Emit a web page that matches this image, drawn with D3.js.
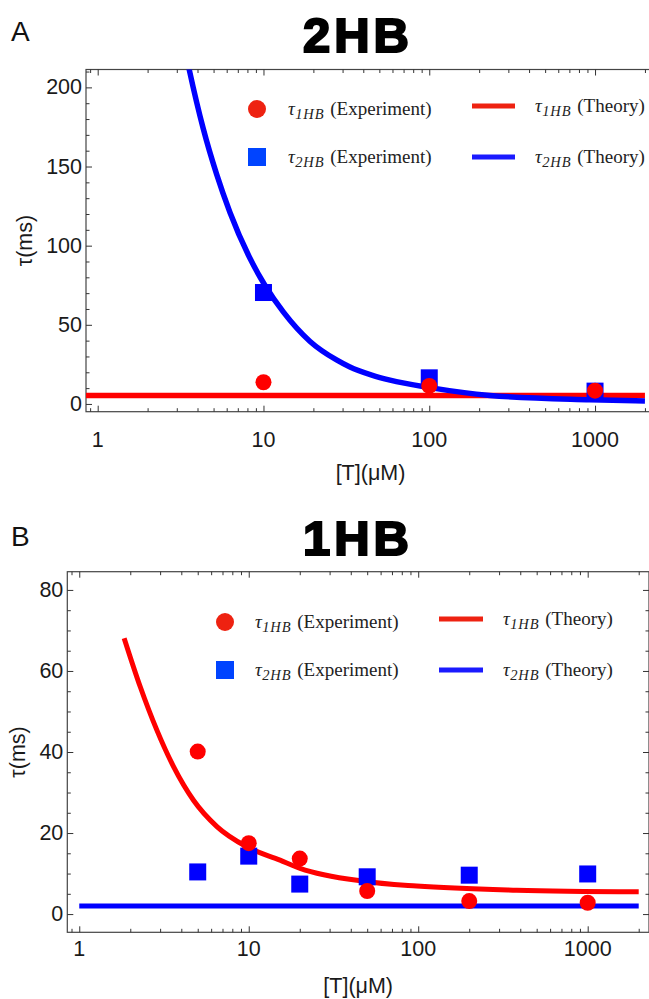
<!DOCTYPE html>
<html>
<head lang="en">
    <meta charset="UTF-8">
    <title></title>
    <style>
        body { margin: 0; background: #fff; }
        svg { display: block; }
        .tick-label { font-family: "Liberation Sans", Arial, sans-serif; font-size: 21.5px; fill: #1a1a1a; }
        .leg { font-family: "Liberation Serif", "Times New Roman", serif; font-size: 19px; fill: #222; }
    </style>
    <script src="https://cdn.jsdelivr.net/npm/d3@7"></script>
</head>
<body>
<div id="chart"></div>
<script>
    // ---- data ----
    var xTickLabels = [1, 10, 100, 1000];
    var aYTicks = [0, 50, 100, 150, 200];
    var bYTicks = [0, 20, 40, 60, 80];

    // panel A (2HB)
    var aExpX = [10, 100, 1000];
    var aTau1Exp = [13.7, 11.4, 8.4];
    var aTau2Exp = [70.4, 16.5, 8.1];
    var aTau1TheoryX = [0.85, 2000];
    var aTau1TheoryY = [5.3, 5.3];
    var aTau2TheoryX = [3.3, 3.57, 4.33, 5.22, 6.28, 8.29, 10.2, 13.2, 19.1, 27.6, 33, 45, 58, 101, 232, 931, 2000];
    var aTau2TheoryY = [228, 211, 174, 145, 121, 92, 75, 58, 39.5, 27.8, 23.5, 18.2, 15, 10.3, 5.4, 2.7, 1.9];

    // panel B (1HB)
    var bExpX = [5, 10, 20, 50, 200, 1000];
    var bTau1Exp = [40.1, 17.5, 13.7, 5.7, 3.2, 2.8];
    var bTau2Exp = [10.4, 14.3, 7.4, 9.2, 9.6, 9.9];
    var bTau1TheoryX = [1.84, 2.29, 2.87, 3.6, 4.72, 6.49, 9.75, 15.3, 20.1, 47.5, 98, 381, 2000];
    var bTau1TheoryY = [68.1, 56.1, 45.4, 36.4, 28.1, 21.6, 16.6, 13.3, 11.3, 8.1, 6.9, 5.9, 5.5];
    var bTau2TheoryX = [1, 2000];
    var bTau2TheoryY = [2.0, 2.0];

    var W = 649, H = 999;
    var red = '#ff0000', blue = '#0000ff';
    var legRed = '#ee2211', legBlue = '#0044ff', legLineBlue = '#1a1aff';

    var svg = d3.select('#chart').append('svg')
            .attr('width', W)
            .attr('height', H);
    svg.append('rect').attr('width', W).attr('height', H).attr('fill', '#fff');

    function zip(xs, ys) {
        return xs.map(function (d, i) { return {x: d, y: ys[i]}; });
    }

    function drawPanel(o) {
        var g = svg.append('g');
        var x = d3.scaleLog().domain([0.85, 2300]).range([o.left, o.right]);
        var y = d3.scaleLinear().domain(o.yDomain).range([o.bottom, o.top]);

        // panel letter + title
        g.append('text')
                .attr('x', 11).attr('y', o.letterY)
                .attr('font-family', '"Liberation Sans", Arial, sans-serif')
                .attr('font-size', 28)
                .attr('fill', '#111')
                .text(o.letter);
        g.append('text')
                .attr('x', 358).attr('y', o.titleY)
                .attr('text-anchor', 'middle')
                .attr('font-family', '"Liberation Sans", Arial, sans-serif')
                .attr('font-weight', 'bold')
                .attr('font-size', 49)
                .attr('letter-spacing', 4)
                .attr('stroke', '#000').attr('stroke-width', 2.2)
                .attr('fill', '#000')
                .text(o.title);

        var clipId = 'clip' + o.letter;
        g.append('clipPath').attr('id', clipId)
                .append('rect')
                .attr('x', o.left).attr('y', o.top)
                .attr('width', o.right - o.left).attr('height', o.bottom - o.top);

        // frame
        g.append('rect')
                .attr('x', o.left).attr('y', o.top)
                .attr('width', o.right - o.left).attr('height', o.bottom - o.top)
                .attr('fill', 'none').attr('stroke', '#444').attr('stroke-width', 1.2);

        // x ticks (bottom and top, inward)
        var xMinor = x.ticks().filter(function (d) { return xTickLabels.indexOf(d) < 0; });
        var bottomAxis = d3.axisBottom(x).tickValues(xTickLabels).tickSize(-6).tickFormat('');
        var bottomMinor = d3.axisBottom(x).tickValues(xMinor).tickSize(-3.5).tickFormat('');
        var topAxis = d3.axisTop(x).tickValues(xTickLabels).tickSize(-6).tickFormat('');
        var topMinor = d3.axisTop(x).tickValues(xMinor).tickSize(-3.5).tickFormat('');
        [[bottomAxis, o.bottom], [bottomMinor, o.bottom], [topAxis, o.top], [topMinor, o.top]].forEach(function (a) {
            var ax = g.append('g').attr('transform', 'translate(0,' + a[1] + ')').call(a[0]);
            ax.select('.domain').remove();
            ax.selectAll('line').attr('stroke', '#333').attr('stroke-width', 1);
        });

        // y ticks (left, and right if requested)
        var yMinor = d3.range(o.yMinorStep * Math.ceil(o.yDomain[0] / o.yMinorStep), o.yDomain[1], o.yMinorStep)
                .filter(function (d) { return o.yTicks.indexOf(d) < 0; });
        var yAxes = [[d3.axisLeft(y).tickValues(o.yTicks).tickSize(-6), o.left],
            [d3.axisLeft(y).tickValues(yMinor).tickSize(-3.5), o.left]];
        if (o.rightTicks) {
            yAxes.push([d3.axisRight(y).tickValues(o.yTicks).tickSize(-6), o.right]);
            yAxes.push([d3.axisRight(y).tickValues(yMinor).tickSize(-3.5), o.right]);
        }
        yAxes.forEach(function (a) {
            var ax = g.append('g').attr('transform', 'translate(' + a[1] + ',0)').call(a[0].tickFormat(''));
            ax.select('.domain').remove();
            ax.selectAll('line').attr('stroke', '#333').attr('stroke-width', 1);
        });

        // tick labels
        g.selectAll('.xl').data(xTickLabels).enter().append('text')
                .attr('class', 'tick-label')
                .attr('x', function (d) { return x(d); })
                .attr('y', o.xLabelY)
                .attr('text-anchor', 'middle')
                .attr('dominant-baseline', 'central')
                .text(function (d) { return d; });
        g.selectAll('.yl').data(o.yTicks).enter().append('text')
                .attr('class', 'tick-label')
                .attr('x', o.left - 4)
                .attr('y', function (d) { return y(d); })
                .attr('text-anchor', 'end')
                .attr('dominant-baseline', 'central')
                .text(function (d) { return d; });

        // axis titles
        g.append('text').attr('class', 'tick-label')
                .attr('x', (o.left + o.right) / 2).attr('y', o.xTitleY)
                .attr('text-anchor', 'middle').attr('dominant-baseline', 'central')
                .text('[T](\u03bcM)');
        g.append('text').attr('class', 'tick-label')
                .attr('transform', 'translate(' + o.yTitleX + ',' + (o.top + o.bottom) / 2 + ') rotate(-90)')
                .attr('text-anchor', 'middle').attr('dominant-baseline', 'central')
                .text('\u03c4(ms)');

        // theory curves
        var line = d3.line()
                .x(function (d) { return x(d.x); })
                .y(function (d) { return y(d.y); })
                .curve(d3.curveMonotoneX);
        var plot = g.append('g').attr('clip-path', 'url(#' + clipId + ')');
        o.lines.forEach(function (l) {
            plot.append('path')
                    .datum(zip(l.xs, l.ys))
                    .attr('d', line)
                    .attr('fill', 'none')
                    .attr('stroke', l.color)
                    .attr('stroke-width', o.lineWidth);
        });

        // experiment points: squares first, circles on top
        plot.selectAll('.sq').data(zip(o.expX, o.tau2)).enter().append('rect')
                .attr('x', function (d) { return x(d.x) - 8.5; })
                .attr('y', function (d) { return y(d.y) - 8.5; })
                .attr('width', 17).attr('height', 17)
                .attr('fill', blue);
        plot.selectAll('.ci').data(zip(o.expX, o.tau1)).enter().append('circle')
                .attr('cx', function (d) { return x(d.x); })
                .attr('cy', function (d) { return y(d.y); })
                .attr('r', 8)
                .attr('fill', red);

        // legend
        var L = o.legend;
        var leg = g.append('g');
        leg.append('circle').attr('cx', L.mx).attr('cy', L.y1).attr('r', 9).attr('fill', legRed);
        leg.append('rect').attr('x', L.mx - 9).attr('y', L.y2 - 9).attr('width', 18).attr('height', 18).attr('fill', legBlue);
        leg.append('line').attr('x1', L.lx1).attr('x2', L.lx2).attr('y1', L.y1 - 3).attr('y2', L.y1 - 3)
                .attr('stroke', legRed).attr('stroke-width', 5);
        leg.append('line').attr('x1', L.lx1).attr('x2', L.lx2).attr('y1', L.y2).attr('y2', L.y2)
                .attr('stroke', legLineBlue).attr('stroke-width', 5);

        function legText(xp, yp, sub, word) {
            var t = leg.append('text').attr('class', 'leg').attr('x', xp).attr('y', yp);
            t.append('tspan').attr('font-style', 'italic').text('\u03c4');
            t.append('tspan').attr('font-style', 'italic').attr('font-size', 14.5).attr('dy', 4).attr('dx', 0.5)
                    .attr('letter-spacing', 0.8).text(sub);
            t.append('tspan').attr('dy', -4).attr('dx', 6).text(word);
        }
        legText(L.tx1, L.y1 + 6, '1HB', '(Experiment)');
        legText(L.tx1, L.y2 + 6, '2HB', '(Experiment)');
        legText(L.tx2, L.y1 + 3, '1HB', '(Theory)');
        legText(L.tx2, L.y2 + 6, '2HB', '(Theory)');
    }

    drawPanel({
        letter: 'A', title: '2HB', letterY: 41, titleY: 52,
        left: 86, right: 655, top: 69.5, bottom: 411.7,
        yDomain: [-4.9, 211.3], yTicks: aYTicks, yMinorStep: 10, rightTicks: false,
        xLabelY: 440, xTitleY: 473, yTitleX: 25,
        lineWidth: 5.5,
        expX: aExpX, tau1: aTau1Exp, tau2: aTau2Exp,
        lines: [
            {xs: aTau1TheoryX, ys: aTau1TheoryY, color: red},
            {xs: aTau2TheoryX, ys: aTau2TheoryY, color: blue}
        ],
        legend: {mx: 257, y1: 109, y2: 157, tx1: 288, lx1: 472, lx2: 515, tx2: 535}
    });

    drawPanel({
        letter: 'B', title: '1HB', letterY: 546, titleY: 555,
        left: 67.3, right: 649, top: 571.7, bottom: 932.3,
        yDomain: [-4.5, 84.5], yTicks: bYTicks, yMinorStep: 5, rightTicks: true,
        xLabelY: 949, xTitleY: 986, yTitleX: 18,
        lineWidth: 5,
        expX: bExpX, tau1: bTau1Exp, tau2: bTau2Exp,
        lines: [
            {xs: bTau1TheoryX, ys: bTau1TheoryY, color: red},
            {xs: bTau2TheoryX, ys: bTau2TheoryY, color: blue}
        ],
        legend: {mx: 225, y1: 622, y2: 670, tx1: 255, lx1: 439, lx2: 483, tx2: 503}
    });
</script>
</body>
</html>
